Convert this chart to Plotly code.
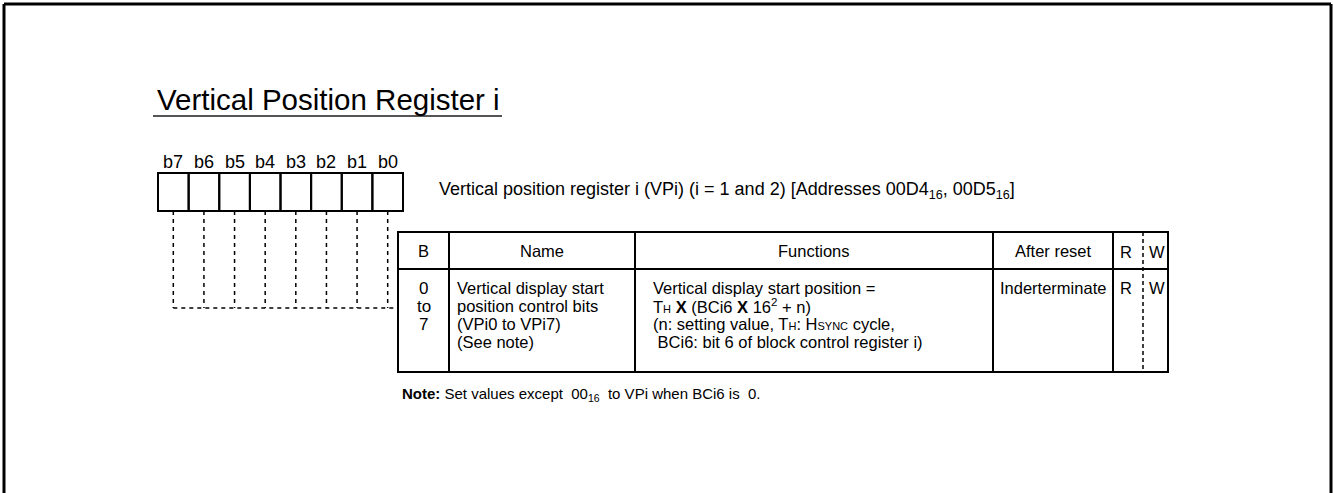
import plotly.graph_objects as go

# ---------------- data (texts of the register diagram) ----------------
title_text = "Vertical Position Register i"
bit_labels = ["b7", "b6", "b5", "b4", "b3", "b2", "b1", "b0"]
register_desc = ("Vertical position register i (VPi) (i = 1 and 2) "
                 "[Addresses 00D4<sub>16</sub>, 00D5<sub>16</sub>]")
table_headers = ["B", "Name", "Functions", "After reset"]
rw_headers = ["R", "W"]
bit_range = ["0", "to", "7"]
name_lines = ["Vertical display start", "position control bits",
              "(VPi0 to VPi7)", "(See note)"]
function_lines = [
    "Vertical display start position =",
    "T<span style='font-size:11px'>H</span> <b>X</b> (BCi6 <b>X</b> 16<sup>2</sup> + n)",
    "(n: setting value, T<span style='font-size:11px'>H</span>: H<span style='font-size:11px'>SYNC</span> cycle,",
    "&nbsp;BCi6: bit 6 of block control register i)",
]
after_reset_value = "Inderterminate"
rw_values = ["R", "W"]
note_text = ("<b>Note:</b> Set values except &nbsp;00<sub>16</sub> &nbsp;to VPi when BCi6 is &nbsp;0.")

# ---------------- geometry ----------------
W, H = 1333, 493
FONT = "Arial, 'Liberation Sans', sans-serif"
FS = 16.5

box_left, box_right = 158, 403
box_top, box_bot = 173, 211
nbits = len(bit_labels)
bw = (box_right - box_left) / nbits

tbl_left, tbl_right = 398, 1168
col_x = [398, 449, 635, 993, 1113, 1168]
rw_div = 1143
tbl_top, hdr_bot, tbl_bot = 232, 269, 372
dash_y = 308

fig = go.Figure()
shapes = []
ann = []

def line(x0, y0, x1, y1, w=2, color="black", dash="solid"):
    shapes.append(dict(type="line", xref="x", yref="y", x0=x0, y0=y0, x1=x1, y1=y1,
                       line=dict(color=color, width=w, dash=dash)))

def text(x, y, t, size=12, xanchor="left", yanchor="middle", color="black"):
    ann.append(dict(x=x, y=y, xref="x", yref="y", text=t, showarrow=False,
                    xanchor=xanchor, yanchor=yanchor,
                    font=dict(family=FONT, size=size, color=color)))

# outer frame (top, left, right)
line(4, 4, 1331, 4, w=3)
line(4, 4, 4, H, w=3)
line(1331, 4, 1331, H, w=3)

# title + underline
text(155, 99, title_text, size=29.5)
line(153, 116, 502, 116, w=2, color="#555555")

# register boxes + bit labels + dashed leads
for i, lab in enumerate(bit_labels):
    x0 = box_left + i * bw
    shapes.append(dict(type="rect", xref="x", yref="y", x0=x0, x1=x0 + bw,
                       y0=box_top, y1=box_bot, line=dict(color="black", width=2)))
    cx = x0 + bw / 2
    text(cx, 162, lab, size=18, xanchor="center")
    line(cx, box_bot, cx, dash_y, w=1.5, dash="4px,4px")
line(box_left + bw / 2, dash_y, tbl_left, dash_y, w=1.5, dash="4px,4px")

text(437, 190, register_desc, size=18)

# table
shapes.append(dict(type="rect", xref="x", yref="y", x0=tbl_left, x1=tbl_right,
                   y0=tbl_top, y1=tbl_bot, line=dict(color="black", width=2)))
line(tbl_left, hdr_bot, tbl_right, hdr_bot, w=2)
for cx in col_x[1:-1]:
    line(cx, tbl_top, cx, tbl_bot, w=2)
line(rw_div, tbl_top, rw_div, tbl_bot, w=1.5, dash="4px,3px")

hdr_y = (tbl_top + hdr_bot) / 2
for i, h in enumerate(table_headers):
    text((col_x[i] + col_x[i + 1]) / 2, hdr_y, h, size=FS, xanchor="center")
text((col_x[4] + rw_div) / 2 - 2, hdr_y + 1, rw_headers[0], size=FS, xanchor="center")
text((rw_div + col_x[5]) / 2 + 1, hdr_y + 1, rw_headers[1], size=FS, xanchor="center")

row_y0, row_dy = 288, 18
for k, t in enumerate(bit_range):
    text((col_x[0] + col_x[1]) / 2, row_y0 + k * row_dy, t, size=FS + 0.5, xanchor="center")
for k, t in enumerate(name_lines):
    text(col_x[1] + 6, row_y0 + k * row_dy, t, size=FS)
for k, t in enumerate(function_lines):
    text(col_x[2] + 16, row_y0 + k * row_dy, t, size=FS)
text((col_x[3] + col_x[4]) / 2, row_y0, after_reset_value, size=FS, xanchor="center")
text((col_x[4] + rw_div) / 2 - 2, row_y0, rw_values[0], size=FS, xanchor="center")
text((rw_div + col_x[5]) / 2 + 1, row_y0, rw_values[1], size=FS, xanchor="center")

# note
text(400, 394, note_text, size=15)

fig.update_layout(
    width=W, height=H, margin=dict(l=0, r=0, t=0, b=0),
    paper_bgcolor="white", plot_bgcolor="white",
    xaxis=dict(range=[0, W], visible=False, fixedrange=True),
    yaxis=dict(range=[H, 0], visible=False, fixedrange=True),
    shapes=shapes, annotations=ann, showlegend=False,
)
fig.write_html(
    "out.html",
    config={"displayModeBar": False},
    post_script="document.body.style.margin='0';document.body.style.overflow='hidden';",
)
